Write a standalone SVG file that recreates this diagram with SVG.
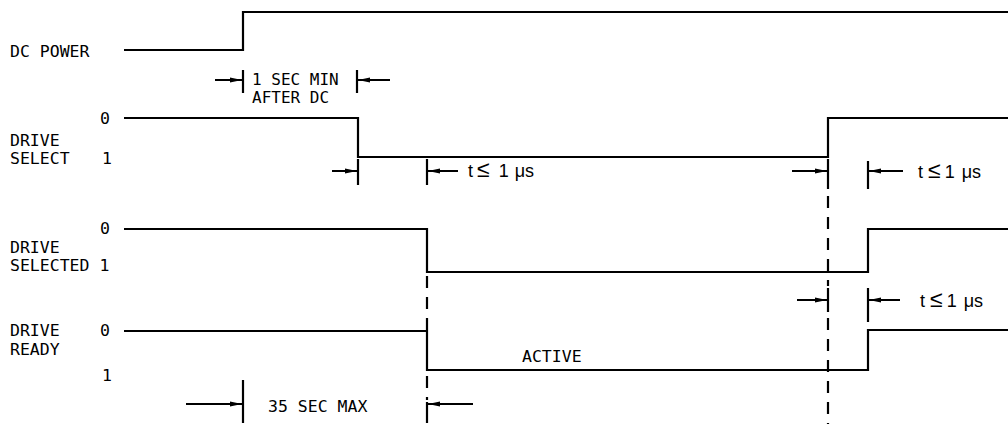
<svg xmlns="http://www.w3.org/2000/svg" width="1008" height="424" viewBox="0 0 1008 424">
<defs>
<marker id="ah" viewBox="0 0 12 6" refX="12" refY="3" markerWidth="12" markerHeight="6" markerUnits="userSpaceOnUse" orient="auto">
<path d="M0,0.6 L12,3 L0,5.4 Z" fill="#000"/>
</marker>
</defs>
<style>
.sig{fill:none;stroke:#000;stroke-width:2.2}
.tick{stroke:#000;stroke-width:2.2}
.arr{stroke:#000;stroke-width:2;marker-end:url(#ah)}
.dash{stroke:#000;stroke-width:2.2;stroke-dasharray:12 9}
.lbl{font-family:"DejaVu Sans Mono","Liberation Mono",monospace;font-size:16.5px;fill:#000}
.sm{font-size:16px}
.t{font-family:"Liberation Sans","DejaVu Sans",sans-serif;font-size:18px;fill:#000}
.le{font-size:23px}
</style>
<rect width="1008" height="424" fill="#fff"/>
<g id="labels">
<text class="lbl" x="10" y="57">DC POWER</text>
<text class="lbl" x="100" y="124">0</text>
<text class="lbl" x="10" y="146">DRIVE</text>
<text class="lbl" x="10" y="164">SELECT</text>
<text class="lbl" x="102" y="164">1</text>
<text class="lbl" x="100" y="234">0</text>
<text class="lbl" x="10" y="253">DRIVE</text>
<text class="lbl" x="10" y="271">SELECTED 1</text>
<text class="lbl" x="10" y="336">DRIVE</text>
<text class="lbl" x="100" y="336">0</text>
<text class="lbl" x="10" y="355">READY</text>
<text class="lbl" x="102" y="381">1</text>
<text class="lbl" x="522" y="362">ACTIVE</text>
</g>
<g id="dc_power"><path class="sig" d="M124,50 H243 V12 H1008"/></g>
<g id="drive_select"><path class="sig" d="M124,118 H358 V157 H828 V118 H1008"/></g>
<g id="drive_selected"><path class="sig" d="M124,229 H427 V272 H868 V229 H1008"/></g>
<g id="drive_ready"><path class="sig" d="M124,331 H427 V370 H868 V330 H1008"/></g>
<g id="connectors">
<line class="dash" x1="427" y1="276" x2="427" y2="330"/>
<line class="dash" x1="427" y1="376" x2="427" y2="400"/>
<line class="dash" x1="828" y1="196" x2="828" y2="286"/>
<line class="dash" x1="828" y1="318" x2="828" y2="424"/>
<line class="tick" x1="243" y1="70" x2="243" y2="93"/>
<line class="tick" x1="357" y1="70" x2="357" y2="93"/>
<line class="arr" x1="215" y1="80" x2="242" y2="80"/>
<line class="arr" x1="390" y1="80" x2="358" y2="80"/>
<line class="tick" x1="358" y1="159" x2="358" y2="185"/>
<line class="tick" x1="427" y1="159" x2="427" y2="185"/>
<line class="arr" x1="332" y1="171" x2="357" y2="171"/>
<line class="arr" x1="458" y1="171" x2="428" y2="171"/>
<line class="tick" x1="828" y1="159" x2="828" y2="189"/>
<line class="tick" x1="868" y1="161" x2="868" y2="189"/>
<line class="arr" x1="792" y1="171" x2="827" y2="171"/>
<line class="arr" x1="903" y1="171" x2="869" y2="171"/>
<line class="tick" x1="828" y1="288" x2="828" y2="312"/>
<line class="tick" x1="868" y1="288" x2="868" y2="322"/>
<line class="arr" x1="797" y1="300" x2="827" y2="300"/>
<line class="arr" x1="900" y1="300" x2="869" y2="300"/>
<line class="tick" x1="243" y1="380" x2="243" y2="423"/>
<line class="tick" x1="427" y1="402" x2="427" y2="423"/>
<line class="arr" x1="186" y1="404" x2="242" y2="404"/>
<line class="arr" x1="473" y1="404" x2="428" y2="404"/>
</g>
<g id="annotations">
<text class="lbl sm" x="252" y="85">1 SEC MIN</text>
<text class="lbl sm" x="252" y="103">AFTER DC</text>
<text class="t" x="468" y="177">t<tspan class="le" dx="4">≤</tspan><tspan dx="9">1</tspan><tspan dx="6">μs</tspan></text>
<text class="t" x="918" y="178">t<tspan class="le" dx="5">≤</tspan><tspan dx="4">1</tspan><tspan dx="7">μs</tspan></text>
<text class="t" x="920" y="307">t<tspan class="le" dx="5">≤</tspan><tspan dx="4">1</tspan><tspan dx="7">μs</tspan></text>
<text class="lbl" x="268" y="412">35 SEC MAX</text>
</g>
</svg>
